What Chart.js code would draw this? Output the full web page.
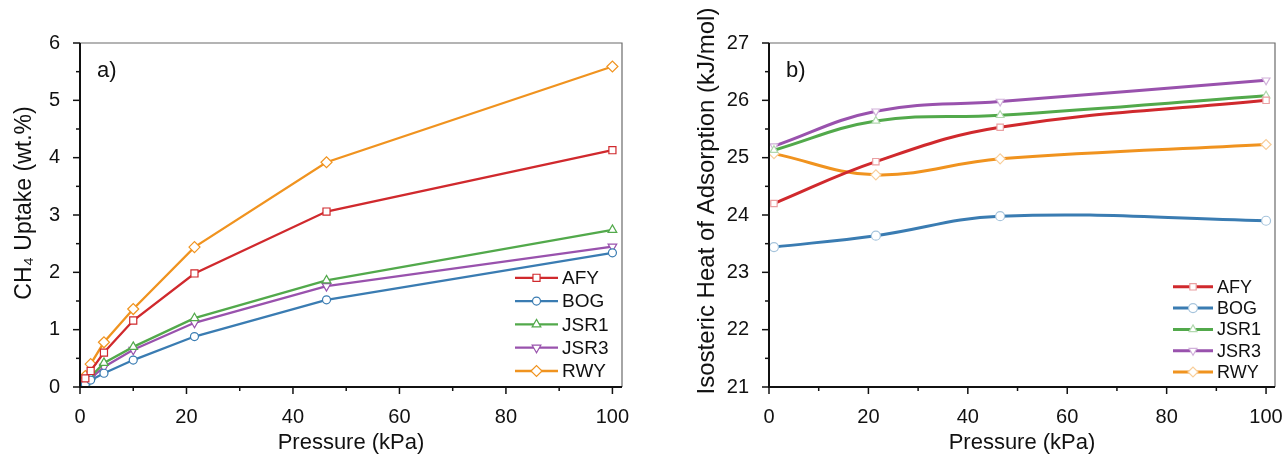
<!DOCTYPE html>
<html>
<head>
<meta charset="utf-8">
<script src="https://cdn.jsdelivr.net/npm/chart.js@4.4.0/dist/chart.umd.min.js"></script>
<style>
  body { margin: 0; background: #fff; }
  .panel { position: absolute; top: 0; width: 644px; height: 456px; }
</style>
</head>
<body>
<div class="panel" style="left:0"><canvas id="uptake-graph" width="644" height="456"></canvas></div>
<div class="panel" style="left:644px"><canvas id="heat-graph" width="644" height="456"></canvas></div>
<script>
// series shared by both panels
const seriesNames = ["AFY", "BOG", "JSR1", "JSR3", "RWY"];
const seriesColors = ["#d0292d", "#3a7cb2", "#52a94b", "#9952ad", "#f0931f"];
const seriesMarkers = ["rect", "circle", "triangle", "triangle", "rectRot"];
const markerRotation = [0, 0, 0, 180, 0];

// a) CH4 uptake (wt.%)
const uptakePressure = [1, 2, 4.5, 10, 21.5, 46.3, 100];
const afyUptake  = [0.15, 0.28, 0.60, 1.16, 1.98, 3.06, 4.13];
const bogUptake  = [0.05, 0.12, 0.24, 0.47, 0.88, 1.52, 2.34];
const jsr1Uptake = [0.08, 0.18, 0.42, 0.70, 1.20, 1.86, 2.74];
const jsr3Uptake = [0.06, 0.15, 0.35, 0.65, 1.12, 1.76, 2.45];
const rwyUptake  = [0.19, 0.40, 0.78, 1.36, 2.44, 3.92, 5.59];

// b) isosteric heat (kJ/mol)
const heatPressure = [1, 21.5, 46.5, 100];
const afyHeat  = [24.20, 24.93, 25.53, 26.00];
const bogHeat  = [23.44, 23.64, 23.98, 23.90];
const jsr1Heat = [25.13, 25.64, 25.74, 26.08];
const jsr3Heat = [25.20, 25.81, 25.98, 26.35];
const rwyHeat  = [25.07, 24.70, 24.98, 25.23];

const pressureTicks = [0, 20, 40, 60, 80, 100];
const uptakeTicks = [0, 1, 2, 3, 4, 5, 6];
const heatTicks = [21, 22, 23, 24, 25, 26, 27];

const fontFamily = "'Liberation Sans', Arial, sans-serif";

function lighten(hex, amt) {
    const n = parseInt(hex.slice(1), 16);
    const r = (n >> 16) & 255, g = (n >> 8) & 255, b = n & 255;
    const mix = c => Math.round(c + (255 - c) * amt);
    return `rgb(${mix(r)},${mix(g)},${mix(b)})`;
}

// frame, outward ticks (major + minor), y title and panel letter
const framePlugin = {
    id: "frame",
    afterDraw(chart, args, opts) {
        const {ctx, chartArea: a, scales} = chart;
        ctx.save();
        ctx.strokeStyle = "#6b6b6b";
        ctx.lineWidth = 1.2;
        ctx.beginPath();
        ctx.moveTo(a.left, a.top); ctx.lineTo(a.right, a.top); ctx.lineTo(a.right, a.bottom);
        ctx.stroke();

        ctx.strokeStyle = "#111";
        ctx.lineWidth = 1.5;
        const x = scales.x, y = scales.y;
        for (let v = x.min; v <= opts.xMax; v += opts.xMinor) {
            const px = x.getPixelForValue(v);
            const len = Math.abs(v % opts.xMajor) < 1e-6 ? 7 : 4;
            ctx.beginPath(); ctx.moveTo(px, a.bottom); ctx.lineTo(px, a.bottom + len); ctx.stroke();
        }
        for (let v = y.min; v <= y.max + 1e-6; v += opts.yMinor) {
            const py = y.getPixelForValue(v);
            const len = Math.abs(v - Math.round(v)) < 1e-6 ? 7 : 4;
            ctx.beginPath(); ctx.moveTo(a.left, py); ctx.lineTo(a.left - len, py); ctx.stroke();
        }
        ctx.lineWidth = 2;
        ctx.beginPath();
        ctx.moveTo(a.left, a.top); ctx.lineTo(a.left, a.bottom); ctx.lineTo(a.right, a.bottom);
        ctx.stroke();

        ctx.fillStyle = "#111";
        ctx.font = `22px ${fontFamily}`;
        ctx.textBaseline = "middle";
        ctx.fillText(opts.letter, a.left + 17, a.top + 28);

        // y axis title
        ctx.font = `${opts.titleSize}px ${fontFamily}`;
        ctx.textAlign = "center";
        ctx.translate(opts.titleX, opts.titleY);
        ctx.rotate(-Math.PI / 2);
        ctx.fillText(opts.title, 0, 0);
        ctx.restore();
    }
};

// legend drawn inside the plot, bottom right
const boxLegendPlugin = {
    id: "boxLegend",
    afterDraw(chart, args, opts) {
        const {ctx, chartArea: a} = chart;
        const sets = chart.data.datasets;
        ctx.save();
        ctx.font = `${opts.size}px ${fontFamily}`;
        ctx.textBaseline = "middle";
        sets.forEach((ds, i) => {
            const yy = a.bottom - opts.bottom - (sets.length - 1 - i) * opts.spacing;
            const x1 = a.right - opts.right;
            const x0 = x1 - opts.lineLen;
            ctx.strokeStyle = ds.borderColor;
            ctx.lineWidth = ds.borderWidth;
            ctx.beginPath(); ctx.moveTo(x0, yy); ctx.lineTo(x1, yy); ctx.stroke();
            ctx.fillStyle = ds.pointBackgroundColor;
            ctx.strokeStyle = ds.pointBorderColor;
            ctx.lineWidth = ds.pointBorderWidth;
            Chart.helpers.drawPoint(ctx, {
                pointStyle: ds.pointStyle,
                rotation: ds.pointRotation,
                radius: ds.pointRadius,
                borderWidth: ds.pointBorderWidth
            }, (x0 + x1) / 2, yy);
            ctx.fillStyle = "#111";
            ctx.fillText(ds.label, x1 + 4, yy + 1);
        });
        ctx.restore();
    }
};

function markerSize(style, heat) {
    if (heat) return style === "rectRot" ? 5 : 4.5;
    if (style === "circle") return 4;
    if (style === "rectRot") return 5.5;
    return 5;
}

function buildDatasets(xs, ys, heat) {
    return seriesNames.map((name, i) => ({
        label: name,
        data: xs.map((x, k) => ({x: x, y: ys[i][k]})),
        borderColor: seriesColors[i],
        borderWidth: heat ? 3 : 2.3,
        tension: heat ? 0.4 : 0,
        pointStyle: seriesMarkers[i],
        pointRotation: markerRotation[i],
        pointRadius: markerSize(seriesMarkers[i], heat),
        pointBackgroundColor: "#fff",
        pointBorderColor: heat ? lighten(seriesColors[i], 0.55) : seriesColors[i],
        pointBorderWidth: 1.2
    }));
}

function axisOptions(yTicks, yWidth) {
    const tickFont = {family: fontFamily, size: 20};
    return {
        x: {
            type: "linear",
            min: 0,
            max: 101.8,
            grid: {display: false},
            border: {display: false},
            afterBuildTicks: scale => { scale.ticks = pressureTicks.map(v => ({value: v})); },
            afterFit: scale => { scale.height = 69; scale.paddingLeft = 0; scale.paddingRight = 0; },
            ticks: {color: "#111", font: tickFont, padding: 10, maxRotation: 0},
            title: {display: true, text: "Pressure (kPa)", color: "#111",
                    font: {family: fontFamily, size: 22}, padding: {top: 0, bottom: 0}}
        },
        y: {
            type: "linear",
            min: yTicks[0],
            max: yTicks[yTicks.length - 1],
            grid: {display: false},
            border: {display: false},
            afterBuildTicks: scale => { scale.ticks = yTicks.map(v => ({value: v})); },
            afterFit: scale => { scale.width = yWidth; scale.paddingTop = 0; scale.paddingBottom = 0; },
            ticks: {color: "#111", font: tickFont, padding: 12}
        }
    };
}

new Chart(document.getElementById("uptake-graph").getContext("2d"), {
    type: "line",
    data: {
        datasets: buildDatasets(uptakePressure, [afyUptake, bogUptake, jsr1Uptake, jsr3Uptake, rwyUptake], false)
    },
    options: {
        responsive: false,
        animation: false,
        layout: {padding: {top: 43, right: 22, left: 0, bottom: 0}},
        scales: axisOptions(uptakeTicks, 80),
        plugins: {
            legend: {display: false},
            tooltip: {enabled: false},
            frame: {letter: "a)", xMax: 100, xMinor: 10, xMajor: 20, yMinor: 0.5,
                    title: "CH\u2084 Uptake (wt.%)", titleSize: 23, titleX: 25, titleY: 203},
            boxLegend: {right: 64, bottom: 16, spacing: 23.3, lineLen: 43, size: 19}
        }
    },
    plugins: [framePlugin, boxLegendPlugin]
});

new Chart(document.getElementById("heat-graph").getContext("2d"), {
    type: "line",
    data: {
        datasets: buildDatasets(heatPressure, [afyHeat, bogHeat, jsr1Heat, jsr3Heat, rwyHeat], true)
    },
    options: {
        responsive: false,
        animation: false,
        layout: {padding: {top: 43, right: 13, left: 0, bottom: 0}},
        scales: axisOptions(heatTicks, 125),
        plugins: {
            legend: {display: false},
            tooltip: {enabled: false},
            frame: {letter: "b)", xMax: 100, xMinor: 10, xMajor: 20, yMinor: 0.5,
                    title: "Isosteric Heat of Adsorption (kJ/mol)", titleSize: 24, titleX: 63, titleY: 201},
            boxLegend: {right: 62, bottom: 15, spacing: 21.3, lineLen: 40, size: 18}
        }
    },
    plugins: [framePlugin, boxLegendPlugin]
});
</script>
</body>
</html>
